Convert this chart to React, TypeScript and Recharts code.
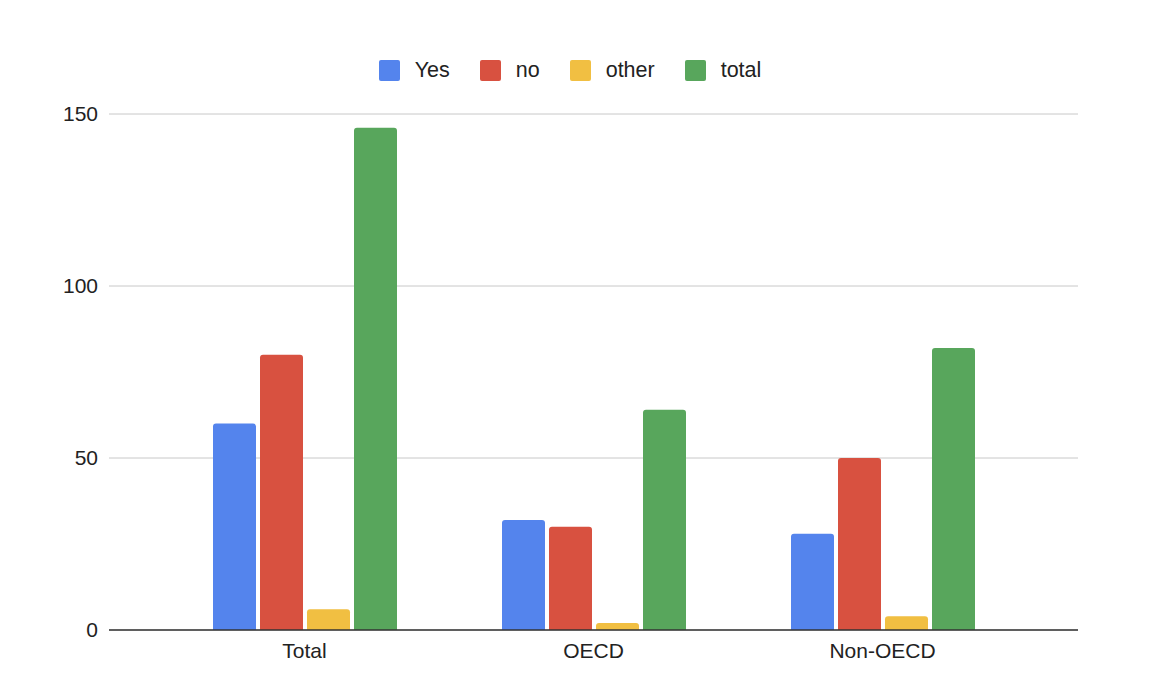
import { BarChart, Bar, XAxis, YAxis, CartesianGrid, Legend } from "recharts";

const categories = ["Total", "OECD", "Non-OECD"];
const yesValues = [60, 32, 28];
const noValues = [80, 30, 50];
const otherValues = [6, 2, 4];
const totalValues = [146, 64, 82];
const yTicks = [0, 50, 100, 150];

const SERIES = [
  { key: "yes", name: "Yes", color: "#5484ed" },
  { key: "no", name: "no", color: "#d85140" },
  { key: "other", name: "other", color: "#f1bf42" },
  { key: "total", name: "total", color: "#58a65c" },
];

const data = categories.map((name, i) => ({
  name,
  yes: yesValues[i],
  no: noValues[i],
  other: otherValues[i],
  total: totalValues[i],
}));

const FONT = '"Liberation Sans", Arial, sans-serif';

function LegendRow() {
  return (
    <div style={{ display: "flex", justifyContent: "center", fontFamily: FONT, fontSize: 21.5, color: "#222" }}>
      {SERIES.map((s) => (
        <div key={s.key} style={{ display: "flex", alignItems: "center", marginRight: 30 }}>
          <div style={{ width: 21, height: 21, borderRadius: 2, background: s.color, marginRight: 15 }} />
          <span>{s.name}</span>
        </div>
      ))}
    </div>
  );
}

export default function App() {
  return (
    <div style={{ position: "absolute", left: 0, top: 0, width: 1168, height: 676, background: "#fff" }}>
      <BarChart
        width={1168}
        height={676}
        data={data}
        margin={{ top: 89, right: 90, bottom: 0, left: 0 }}
        barSize={43}
        barGap={4}
      >
        <CartesianGrid vertical={false} stroke="#c8c8c8" />
        <XAxis
          dataKey="name"
          height={46}
          padding={{ left: 51, right: 51 }}
          tickLine={false}
          axisLine={{ stroke: "#333", strokeWidth: 1.5 }}
          tick={{ fill: "#222", fontSize: 21, fontFamily: FONT }}
          tickMargin={7}
        />
        <YAxis
          width={109}
          domain={[0, 150]}
          ticks={yTicks}
          axisLine={false}
          tickLine={false}
          tick={{ fill: "#222", fontSize: 21, fontFamily: FONT }}
          tickMargin={5}
        />
        <Legend
          verticalAlign="top"
          height={0}
          wrapperStyle={{ top: 58, left: 0, width: 1170 }}
          content={() => <LegendRow />}
        />
        {SERIES.map((s) => (
          <Bar
            key={s.key}
            dataKey={s.key}
            name={s.name}
            fill={s.color}
            radius={[3, 3, 0, 0]}
            isAnimationActive={false}
          />
        ))}
      </BarChart>
    </div>
  );
}
